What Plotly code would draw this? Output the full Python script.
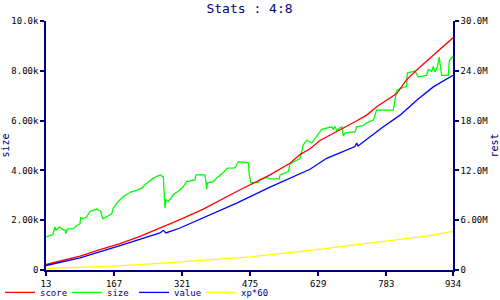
import plotly.graph_objects as go

# ---- data ----
score_x = [13, 44.7, 89.9, 135.2, 180.5, 225.7, 271, 316.2, 369, 444.5, 519.9, 565.1, 587.8,
           610.4, 633, 678.3, 712.2, 738.7, 761.3, 806.6, 829.2, 859.3, 889.4, 934]
score_y = [0.66, 1.06, 1.66, 2.46, 3.18, 4.06, 5.06, 6.06, 7.34, 9.46, 11.46, 12.86, 13.9,
           14.6, 15.6, 16.86, 17.86, 18.66, 19.66, 21.26, 22.94, 24.46, 25.86, 27.98]

value_x = [13, 89.9, 180.5, 271, 278.4, 284.5, 316.2, 369, 444.5, 519.9, 565.1, 610.4, 648.2,
           712.2, 716.1, 719, 776.3, 814.1, 851.9, 889.4, 934]
value_y = [0.54, 1.46, 2.94, 4.46, 4.78, 4.46, 5.06, 6.26, 8.06, 9.98, 11.06, 12.14, 13.46,
           14.88, 15.3, 14.94, 17.26, 18.66, 20.46, 22.06, 23.46]

xp_x = [13, 164.6, 286, 474.6, 625.6, 761.3, 882, 934]
xp_y = [0.18, 0.46, 0.86, 1.58, 2.46, 3.34, 4.14, 4.66]

size_x = [13, 22, 28.2, 33.4, 35.6, 43.1, 49.2, 56, 58.3, 60.5, 74.8, 82.5, 89.9, 91.5, 97.4,
          105.1, 112.6, 127.7, 136.8, 141.3, 150.4, 161.7, 165.3, 176.6, 187.9, 206.9, 218.2,
          229.6, 237, 255.8, 271, 278.4, 282.3, 284.5, 289.8, 301.1, 316.2, 323.7, 331.4,
          350.2, 352.4, 372.8, 375, 376.6, 378, 391.6, 399.3, 414.2, 423.3, 440.7, 448.2,
          463.3, 470.8, 473.1, 476.3, 493.4, 497.3, 512.4, 519.9, 541, 542.5, 561.3, 565.1,
          587.8, 595.2, 602.9, 614.2, 636.9, 659.5, 663.1, 667, 670.8, 682.1, 685.8, 689.6,
          700.9, 712.2, 716.1, 731, 738.7, 753.7, 761.3, 791.4, 798.9, 802.7, 806.6, 814.1,
          829.2, 830.5, 848, 855.4, 874.4, 878, 885.7, 889.4, 893.2, 898.4, 902.9, 904.5,
          908.4, 923.3, 925.6, 928.8, 933.3, 934]
size_y = [1328, 1380, 1420, 1728, 1600, 1728, 1640, 1600, 1460, 1640, 1660, 1780, 1860, 2100,
          2060, 2140, 2352, 2448, 2352, 2060, 2152, 2260, 2488, 2752, 2952, 3152, 3200, 3288,
          3420, 3688, 3820, 3740, 2488, 2820, 2760, 3020, 3220, 3352, 3552, 3620, 3820, 3820,
          3488, 3248, 3500, 3552, 3700, 3912, 4088, 4100, 4352, 4300, 4300, 3820, 3512, 3512,
          3620, 3720, 3660, 3660, 3820, 3952, 4260, 4488, 5020, 5220, 5100, 5648, 5752, 5650,
          5752, 5620, 5752, 5380, 5500, 5540, 5540, 5752, 5800, 5912, 6020, 6420, 6440, 6420,
          6820, 7220, 7280, 7380, 7912, 7992, 7752, 7820, 8050, 7980, 8180, 7952, 8150, 8552,
          8300, 7820, 7820, 8400, 8488, 8580, 8500]

x_ticks = [13, 167, 321, 475, 629, 783, 934]
left_ticks = [0, 2000, 4000, 6000, 8000, 10000]
left_labels = ["0", "2.00k", "4.00k", "6.00k", "8.00k", "10.0k"]
right_ticks = [0, 6, 12, 18, 24, 30]
right_labels = ["0", "6.00M", "12.0M", "18.0M", "24.0M", "30.0M"]

NAVY = "#000080"
FONT = "DejaVu Sans Mono"

fig = go.Figure()
fig.add_trace(go.Scatter(x=score_x, y=score_y, name="score", mode="lines",
                         line=dict(color="#ff0000", width=1.3), yaxis="y2"))
fig.add_trace(go.Scatter(x=size_x, y=size_y, name="size", mode="lines",
                         line=dict(color="#00ff00", width=1.3), yaxis="y"))
fig.add_trace(go.Scatter(x=value_x, y=value_y, name="value", mode="lines",
                         line=dict(color="#0000ff", width=1.3), yaxis="y2"))
fig.add_trace(go.Scatter(x=xp_x, y=xp_y, name="xp*60", mode="lines",
                         line=dict(color="#ffff00", width=1.3), yaxis="y2"))

axis_common = dict(showgrid=False, zeroline=False, showline=True, linecolor=NAVY,
                   linewidth=1.5, ticks="outside", ticklen=4, tickcolor=NAVY, tickwidth=1.5,
                   automargin=False,
                   tickfont=dict(family=FONT, size=9, color="black"))

fig.update_layout(
    width=500, height=300,
    margin=dict(l=46, r=47, t=20.5, b=29.5, autoexpand=False),
    paper_bgcolor="white", plot_bgcolor="white",
    title=dict(text="Stats : 4:8", x=0.5, xref="paper", xanchor="center",
               y=1 - 8.5 / 300, yanchor="middle",
               font=dict(family=FONT, size=13, color=NAVY, weight="normal")),
    xaxis=dict(range=[13, 934], tickvals=x_ticks, ticktext=[str(v) for v in x_ticks],
               **axis_common),
    yaxis=dict(range=[0, 10000], tickvals=left_ticks, ticktext=left_labels,
               title=dict(text="size", font=dict(family=FONT, size=10, color=NAVY), standoff=4),
               **axis_common),
    yaxis2=dict(range=[0, 30], tickvals=right_ticks, ticktext=right_labels, overlaying="y",
                side="right",
                title=dict(text="rest", font=dict(family=FONT, size=10, color=NAVY), standoff=4),
                **axis_common),
    showlegend=True,
    legend=dict(orientation="h", x=-0.113, xanchor="left", y=-0.09, yanchor="middle",
                font=dict(family=FONT, size=9, color=NAVY), itemwidth=30,
                entrywidth=22, entrywidthmode="pixels",
                bgcolor="rgba(0,0,0,0)", tracegroupgap=0, itemclick=False),
)

fig.write_html("out.html")
